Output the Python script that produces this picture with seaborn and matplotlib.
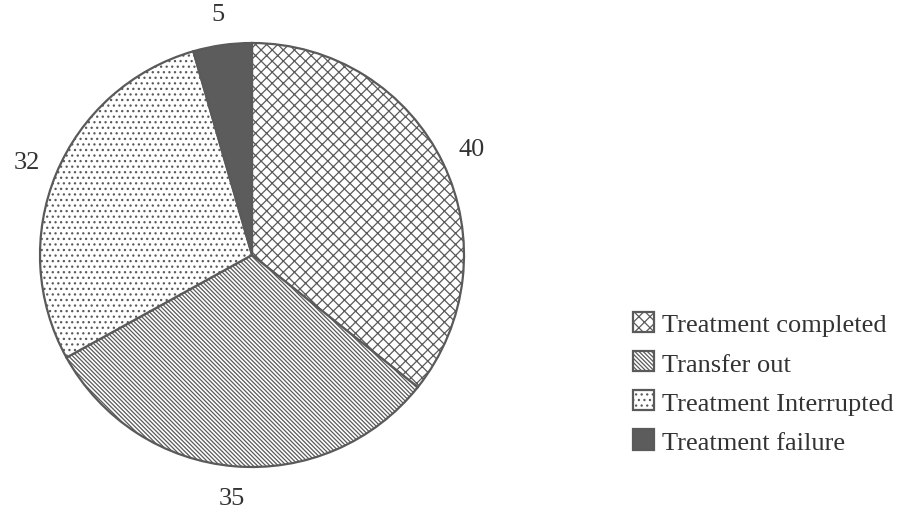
import seaborn as sns
import matplotlib.pyplot as plt

sns.set_theme(style="white")
plt.rcParams['font.family'] = ['Liberation Serif', 'DejaVu Serif']
plt.rcParams['hatch.linewidth'] = 0.9

# data
categories = ["Treatment completed", "Transfer out", "Treatment Interrupted", "Treatment failure"]
counts = [40, 35, 32, 5]

facecolors = ["white", "white", "white", "#5c5c5c"]
hatches = ["xxx", "\\" * 8, "...", None]
edge = "#5a5a5a"

fig = plt.figure(figsize=(9.1, 5.1), dpi=100)
ax = fig.add_axes([40 / 910, 42 / 510, 424 / 910, 424 / 510])

wedges, texts = ax.pie(counts, labels=[str(c) for c in counts], startangle=90,
                       counterclock=False, colors=facecolors, labeldistance=1.15,
                       wedgeprops=dict(edgecolor=edge, linewidth=1.6),
                       textprops=dict(fontsize=19, color="#333333"))
for w, h in zip(wedges, hatches):
    if h:
        w.set_hatch(h)
for t in texts:
    t.set_ha("center")
ax.set_xlim(-1, 1)
ax.set_ylim(-1, 1)
ax.set_aspect("equal")

fig.legend(wedges, categories, loc="upper left", bbox_to_anchor=(620 / 910, 1 - 300 / 510),
           frameon=False, fontsize=19, borderpad=0, handlelength=0.8, handleheight=0.8,
           handletextpad=0.3, labelspacing=0.56, labelcolor="#333333")

plt.savefig("out.png", dpi=100)
